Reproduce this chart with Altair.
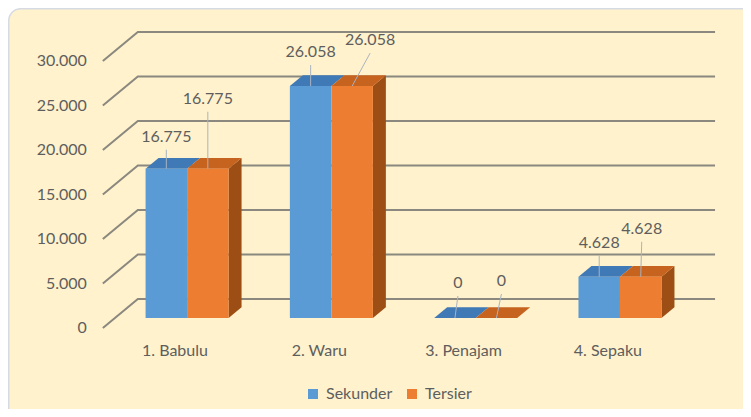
import altair as alt
import pandas as pd

# ---------------- data ----------------
categories = ["1. Babulu", "2. Waru", "3. Penajam", "4. Sepaku"]
series = ["Sekunder", "Tersier"]
sekunder = [16775, 26058, 0, 4628]
tersier = [16775, 26058, 0, 4628]
y_ticks = [0, 5000, 10000, 15000, 20000, 25000, 30000]

# ---------------- style ----------------
front_colors = ["#5B9BD5", "#ED7D31"]
top_colors = ["#3F79B6", "#C6631F"]
side_color = "#9C4E15"
text_color = "#5E5E5E"
FONT = "Lato"

# data-label placement (pixel nudges of each label from its bar top, as laid out in the original)
label_nudge = {
    ("1. Babulu", "Sekunder"): (0, -32), ("1. Babulu", "Tersier"): (0, -70),
    ("2. Waru", "Sekunder"): (0, -34), ("2. Waru", "Tersier"): (18, -46),
    ("3. Penajam", "Sekunder"): (3, -35), ("3. Penajam", "Tersier"): (5, -37),
    ("4. Sepaku", "Sekunder"): (0, -34), ("4. Sepaku", "Tersier"): (1, -48),
}


def fmt(v):
    return f"{v:,}".replace(",", ".")


# ---------------- geometry (oblique 3D projection) ----------------
W, H = 735, 401
Y0_PX = 320            # pixel row of value 0 on the front plane
PX_PER_UNIT = 267 / 30000
X0_PX = 167            # pixel column of the first category on the front plane
PX_PER_CAT = 144.3
DEPTH_X_PX, DEPTH_Y_PX = 35, 29
BAR_W = 41.5 / PX_PER_CAT
D1, D2 = 0.345, 0.716  # front / back depth of the bars

dxu = DEPTH_X_PX / PX_PER_CAT
dyu = DEPTH_Y_PX / PX_PER_UNIT

x_scale = alt.Scale(domain=[-X0_PX / PX_PER_CAT, (W - X0_PX) / PX_PER_CAT], nice=False, zero=False)
y_scale = alt.Scale(domain=[(Y0_PX - H) / PX_PER_UNIT, Y0_PX / PX_PER_UNIT], nice=False, zero=False)

# ---------------- derived tables ----------------
grid_rows = []
for t in y_ticks:
    grid_rows.append({"tick": t, "o": 0, "x": -0.5, "y": t})
    grid_rows.append({"tick": t, "o": 1, "x": -0.5 + dxu, "y": t + dyu})
    grid_rows.append({"tick": t, "o": 2, "x": len(categories) - 0.5 + dxu, "y": t + dyu})
grid_df = pd.DataFrame(grid_rows)

tick_df = pd.DataFrame({"x": [-0.5] * len(y_ticks), "y": y_ticks, "label": [fmt(t) for t in y_ticks]})
cat_df = pd.DataFrame({"x": list(range(len(categories))), "y": [0] * len(categories), "label": categories})

front_rows, top_rows, side_rows, label_rows = [], [], [], []
values = [sekunder, tersier]
for i, cat in enumerate(categories):
    for s, ser in enumerate(series):
        v = values[s][i]
        xl = i - BAR_W + s * BAR_W
        xr = xl + BAR_W
        key = f"{cat}-{ser}"
        front_rows.append({"series": ser, "x": xl + D1 * dxu, "x2": xr + D1 * dxu,
                           "y": D1 * dyu, "y2": v + D1 * dyu})
        for d in (D1, D2):
            top_rows.append({"key": key, "col": top_colors[s], "y": v + d * dyu,
                             "x": xl + d * dxu, "x2": xr + d * dxu})
        if s == len(series) - 1:
            for d in (D1, D2):
                side_rows.append({"key": key, "x": xr + d * dxu, "y": v + d * dyu, "y2": d * dyu})
        label_rows.append({"key": key, "cat": cat, "series": ser,
                           "x": (xl + xr) / 2 + D1 * dxu, "y": v + D1 * dyu, "label": fmt(v)})

front_df = pd.DataFrame(front_rows)
top_df = pd.DataFrame(top_rows)
side_df = pd.DataFrame(side_rows)
label_df = pd.DataFrame(label_rows)

X = lambda f="x": alt.X(f"{f}:Q", scale=x_scale, axis=None)
Y = lambda f="y": alt.Y(f"{f}:Q", scale=y_scale, axis=None, stack=None)

# ---------------- layers ----------------
panel = alt.Chart(pd.DataFrame({"a": [0]})).mark_rect(
    cornerRadius=12, fill="#FFF2CC", stroke="#D5DAE3", strokeWidth=1.5
).encode(x=alt.value(0.75), y=alt.value(0.75), x2=alt.value(W + 40), y2=alt.value(H + 40))

grid = alt.Chart(grid_df).mark_line(color="#8A887F", strokeWidth=2).encode(
    x=X(), y=Y(), detail="tick:N", order="o:Q"
)

tick_labels = alt.Chart(tick_df).mark_text(
    align="right", baseline="middle", dx=-16, font=FONT, fontSize=16, color=text_color
).encode(x=X(), y=Y(), text="label:N")

cat_labels = alt.Chart(cat_df).mark_text(
    align="center", baseline="middle", dy=23, font=FONT, fontSize=16, color=text_color
).encode(x=X(), y=Y(), text="label:N")

sides = alt.Chart(side_df).mark_area(orient="vertical", color=side_color).encode(
    x=X(), y=Y(), y2="y2:Q", detail="key:N"
)

tops = alt.Chart(top_df).mark_area(orient="horizontal").encode(
    y=Y(), x=alt.X("x:Q", scale=x_scale, axis=None, stack=None), x2="x2:Q",
    detail="key:N", color=alt.Color("col:N", scale=None)
)

fronts = alt.Chart(front_df).mark_rect().encode(
    x=X(), x2="x2:Q", y=Y(), y2="y2:Q",
    color=alt.Color(
        "series:N",
        scale=alt.Scale(domain=series, range=front_colors),
        legend=alt.Legend(
            orient="none", legendX=297, legendY=378, direction="horizontal", title=None,
            symbolType="square", symbolSize=100, symbolStrokeWidth=0, symbolOpacity=1,
            labelFont=FONT, labelFontSize=16, labelColor=text_color,
            columnPadding=11, labelOffset=5,
        ),
    ),
)

leader_layers, text_layers = [], []
for (cat, ser), (ndx, ndy) in label_nudge.items():
    base = alt.Chart(label_df).transform_filter(
        (alt.datum.cat == cat) & (alt.datum.series == ser)
    )
    leader_layers.append(
        base.mark_rule(color="#A9B3C2", strokeWidth=1, x2Offset=ndx, y2Offset=ndy + 13).encode(
            x=X(), y=Y(), x2="x:Q", y2="y:Q"
        )
    )
    text_layers.append(
        base.mark_text(align="center", baseline="middle", dx=ndx, dy=ndy, font=FONT, fontSize=16,
                       color=text_color).encode(x=X(), y=Y(), text="label:N")
    )

chart = alt.layer(
    panel, grid, tick_labels, cat_labels, sides, tops, fronts, *leader_layers, *text_layers
).properties(
    width=W, height=H, padding=0, autosize="none", background="white"
).configure_view(stroke=None)

chart.save("out.html", embed_options={"renderer": "svg", "actions": False})
